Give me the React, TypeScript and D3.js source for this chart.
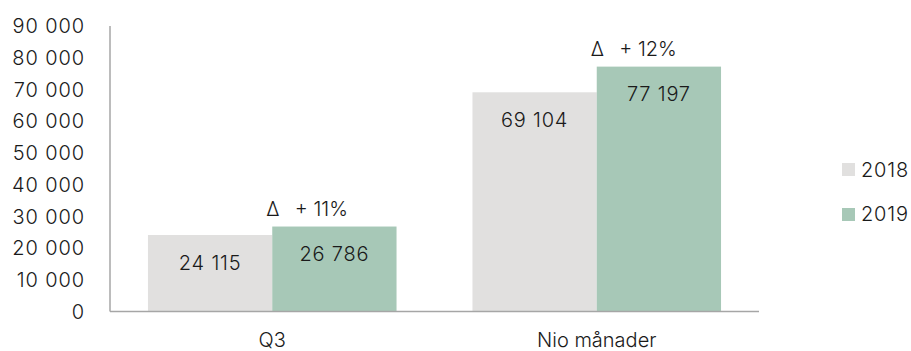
import React from "react";
import * as d3 from "d3";

const categories = ["Q3", "Nio månader"];
const seriesNames = ["2018", "2019"];
const values2018 = [24115, 69104];
const values2019 = [26786, 77197];
const deltaLabels = ["+ 11%", "+ 12%"];
const yTicks = [0, 10000, 20000, 30000, 40000, 50000, 60000, 70000, 80000, 90000];
const colors = ["#e1e0df", "#a7c8b7"];

const W = 911;
const H = 351;
const FONT = "Inter, 'Noto Sans', sans-serif";

const locale = d3.formatLocale({ decimal: ",", thousands: " ", grouping: [3], currency: ["", ""] });
const fmt = locale.format(",d");

export default function App() {
  const left = 110, right = 759, top = 26, bottom = 311.5;
  const y = d3.scaleLinear().domain([0, 90000]).range([bottom, top]);
  const x0 = d3.scaleBand<string>().domain(categories).range([left, right]).paddingInner(0.234).paddingOuter(0.117);
  const x1 = d3.scaleBand<string>().domain(seriesNames).range([0, x0.bandwidth()]);
  const seriesValues = [values2018, values2019];
  const txt = { fontSize: 20, fill: "#1a1a1a", fontWeight: 300 } as const;

  return (
    <div style={{ position: "absolute", left: 0, top: 0 }}>
      <svg width={W} height={H} style={{ display: "block", fontFamily: FONT }}>
        <rect width={W} height={H} fill="#ffffff" />
        {yTicks.map((t) => (
          <text key={t} x={85} y={y(t) + 7.2} textAnchor="end" letterSpacing={0.9} {...txt}>
            {fmt(t)}
          </text>
        ))}
        {categories.map((c, ci) =>
          seriesNames.map((s, si) => {
            const v = seriesValues[si][ci];
            const bx = (x0(c) as number) + (x1(s) as number);
            return (
              <g key={c + s}>
                <rect x={bx} y={y(v)} width={x1.bandwidth()} height={bottom - y(v)} fill={colors[si]} />
                <text x={bx + x1.bandwidth() / 2} y={y(v) + 34.5} textAnchor="middle" letterSpacing={0.8} {...txt}>
                  {fmt(v)}
                </text>
              </g>
            );
          })
        )}
        {categories.map((c, ci) => {
          const bx = (x0(c) as number) + (x1("2019") as number);
          const by = y(values2019[ci]) - 11;
          return (
            <text key={"d" + c} x={bx - 6} y={by} {...txt}>
              <tspan>Δ</tspan>
              <tspan dx={16}>{deltaLabels[ci]}</tspan>
            </text>
          );
        })}
        <line x1={left} x2={left} y1={top} y2={bottom} stroke="#a6a6a6" strokeWidth={1.5} />
        <line x1={left} x2={right} y1={bottom} y2={bottom} stroke="#a6a6a6" strokeWidth={1.5} />
        {categories.map((c) => (
          <text key={"c" + c} x={(x0(c) as number) + x0.bandwidth() / 2} y={347} textAnchor="middle" {...txt}>
            {c}
          </text>
        ))}
        {seriesNames.map((s, si) => (
          <g key={"l" + s}>
            <rect x={842} y={163 + si * 45} width={13} height={13} fill={colors[si]} />
            <text x={861} y={177 + si * 44} letterSpacing={0.8} {...txt}>
              {s}
            </text>
          </g>
        ))}
      </svg>
    </div>
  );
}
